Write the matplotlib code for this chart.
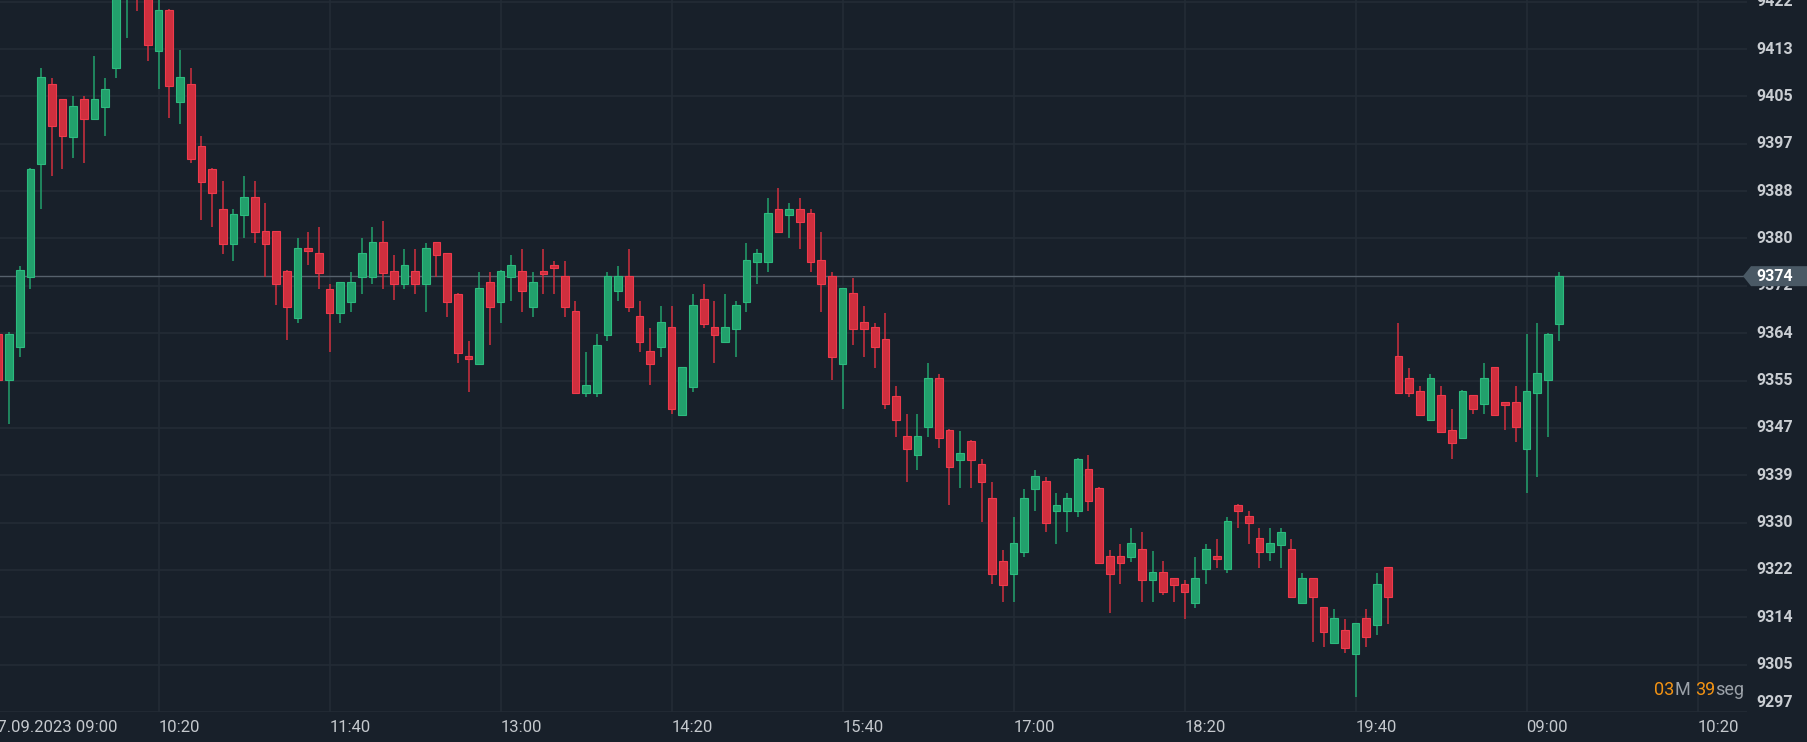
import numpy as np
import matplotlib
matplotlib.use("Agg")
import matplotlib.pyplot as plt
from matplotlib.patches import Polygon
from matplotlib.transforms import blended_transform_factory

plt.rcParams['font.family'] = ['Roboto', 'DejaVu Sans']

# 5-minute candles, index 1..147 on the chart's x slots
idx = np.arange(1, 148)
opens = [9363.7, 9355.5, 9361.4, 9373.6, 9393.5, 9407.7, 9404.9, 9398.3, 9404.9, 9401.5,
         9403.5, 9410.5, 9424.0, 9430.0, 9426.0, 9413.5, 9420.6, 9404.5, 9407.7, 9396.7,
         9392.7, 9385.7, 9379.5, 9384.6, 9387.7, 9381.7, 9381.7, 9374.7, 9366.5, 9378.7,
         9377.8, 9371.6, 9367.4, 9369.3, 9373.6, 9373.6, 9379.8, 9374.7, 9372.4, 9374.7,
         9372.4, 9379.8, 9377.8, 9370.7, 9359.7, 9358.3, 9372.7, 9369.3, 9373.6, 9374.7,
         9368.4, 9374.7, 9375.8, 9373.8, 9367.7, 9353.3, 9353.3, 9363.4, 9371.2, 9373.8,
         9366.8, 9360.6, 9361.4, 9364.8, 9349.3, 9354.3, 9369.7, 9364.8, 9362.3, 9364.5,
         9369.3, 9376.3, 9376.3, 9385.7, 9384.5, 9385.7, 9384.85, 9376.6, 9373.8, 9358.3,
         9370.8, 9365.7, 9364.8, 9362.7, 9352.7, 9345.7, 9342.3, 9347.3, 9355.8, 9346.8,
         9341.4, 9344.8, 9340.7, 9334.7, 9323.7, 9321.4, 9325.3, 9336.3, 9337.7, 9332.4,
         9332.4, 9332.4, 9339.8, 9336.6, 9324.5, 9324.5, 9324.3, 9325.7, 9320.3, 9321.7,
         9320.6, 9319.7, 9316.3, 9322.3, 9324.6, 9322.3, 9333.6, 9331.6, 9327.65, 9325.3,
         9326.5, 9325.7, 9316.3, 9320.6, 9315.5, 9309.3, 9311.6, 9307.3, 9313.6, 9312.4,
         9322.55, 9359.7, 9355.8, 9353.6, 9348.5, 9352.8, 9346.7, 9345.4, 9352.8, 9351.3,
         9357.75, 9351.6, 9351.6, 9343.4, 9353.3, 9355.5, 9365.4]
highs = [9364.5, 9364.0, 9375.6, 9392.9, 9410.5, 9408.6, 9405.0, 9405.5, 9405.5, 9412.5,
         9408.6, 9427.0, 9430.0, 9432.0, 9428.0, 9423.5, 9420.8, 9413.6, 9410.5, 9398.5,
         9392.8, 9390.5, 9385.6, 9391.4, 9390.5, 9386.6, 9381.8, 9374.8, 9380.5, 9381.5,
         9382.4, 9372.5, 9372.8, 9374.5, 9380.5, 9382.4, 9383.5, 9377.6, 9378.5, 9378.5,
         9379.6, 9379.9, 9377.9, 9370.8, 9362.4, 9374.5, 9374.5, 9374.8, 9377.6, 9378.5,
         9374.5, 9378.5, 9376.5, 9376.5, 9369.4, 9360.4, 9363.6, 9374.5, 9375.6, 9378.5,
         9369.4, 9364.6, 9368.5, 9368.5, 9357.9, 9370.6, 9372.5, 9369.4, 9370.6, 9369.4,
         9379.6, 9378.5, 9387.5, 9389.4, 9386.6, 9387.5, 9385.6, 9381.5, 9374.6, 9371.7,
         9373.5, 9368.5, 9365.5, 9367.4, 9354.5, 9349.5, 9349.5, 9358.5, 9356.5, 9346.9,
         9346.5, 9344.9, 9341.6, 9337.6, 9325.6, 9331.5, 9336.4, 9339.6, 9338.5, 9335.6,
         9335.6, 9341.8, 9342.4, 9336.7, 9325.6, 9326.7, 9329.4, 9328.7, 9325.5, 9323.6,
         9320.7, 9320.4, 9324.4, 9326.6, 9327.5, 9331.5, 9333.7, 9332.5, 9329.4, 9329.4,
         9329.4, 9327.5, 9321.5, 9320.7, 9315.6, 9315.3, 9313.4, 9312.8, 9315.3, 9321.5,
         9322.6, 9365.5, 9357.6, 9354.5, 9356.5, 9354.5, 9350.5, 9353.7, 9352.9, 9358.5,
         9357.8, 9351.7, 9354.5, 9363.6, 9365.5, 9363.8, 9374.5]
lows = [9354.0, 9347.8, 9359.6, 9371.5, 9385.6, 9391.5, 9392.6, 9394.6, 9393.7, 9401.3,
        9398.5, 9408.6, 9415.7, 9420.5, 9411.7, 9406.7, 9401.6, 9400.5, 9393.7, 9383.6,
        9382.5, 9377.7, 9376.5, 9380.5, 9379.7, 9373.6, 9368.7, 9362.6, 9365.6, 9375.8,
        9371.5, 9360.5, 9365.6, 9367.5, 9370.6, 9372.5, 9371.5, 9369.6, 9371.5, 9370.6,
        9367.5, 9373.7, 9366.7, 9358.6, 9353.5, 9358.2, 9361.6, 9365.5, 9369.5, 9367.5,
        9366.7, 9370.7, 9370.7, 9366.7, 9353.2, 9352.6, 9352.6, 9362.4, 9369.5, 9367.5,
        9360.5, 9354.6, 9359.6, 9349.5, 9349.2, 9353.5, 9364.6, 9358.6, 9362.2, 9359.6,
        9367.5, 9372.5, 9374.6, 9381.4, 9380.5, 9378.5, 9374.6, 9367.5, 9355.6, 9350.5,
        9361.6, 9359.6, 9357.6, 9350.5, 9345.5, 9337.6, 9339.6, 9345.5, 9343.5, 9333.5,
        9336.6, 9336.6, 9330.6, 9319.6, 9316.5, 9316.5, 9324.4, 9332.5, 9328.7, 9326.7,
        9328.7, 9331.5, 9332.5, 9323.3, 9314.6, 9319.6, 9323.5, 9316.5, 9316.5, 9317.7,
        9316.5, 9313.5, 9315.4, 9319.6, 9322.5, 9321.6, 9329.5, 9326.7, 9322.5, 9323.6,
        9322.5, 9317.3, 9316.2, 9309.5, 9308.6, 9309.2, 9307.5, 9299.7, 9308.6, 9310.6,
        9312.6, 9353.2, 9352.6, 9349.3, 9348.4, 9346.3, 9341.6, 9345.3, 9349.5, 9349.5,
        9349.3, 9346.7, 9344.7, 9335.7, 9338.5, 9345.5, 9362.4]
closes = [9355.5, 9363.7, 9374.8, 9392.7, 9408.8, 9400.3, 9398.4, 9403.7, 9401.5, 9404.9,
          9406.8, 9425.0, 9428.0, 9425.0, 9414.4, 9420.6, 9407.3, 9408.8, 9394.4, 9390.4,
          9388.5, 9379.5, 9384.8, 9387.7, 9381.5, 9379.5, 9372.4, 9368.4, 9378.7, 9378.2,
          9374.4, 9367.4, 9372.7, 9372.7, 9377.8, 9379.8, 9374.4, 9372.4, 9375.8, 9372.4,
          9378.7, 9377.5, 9369.3, 9360.3, 9359.2, 9371.7, 9368.4, 9374.7, 9375.8, 9371.2,
          9372.7, 9374.1, 9375.2, 9368.4, 9353.3, 9354.7, 9361.7, 9373.8, 9373.8, 9368.4,
          9362.3, 9358.3, 9365.7, 9350.4, 9357.8, 9368.8, 9365.4, 9363.4, 9364.8, 9368.8,
          9376.6, 9377.8, 9384.9, 9381.5, 9385.7, 9383.4, 9376.35, 9372.4, 9359.5, 9371.65,
          9364.5, 9364.5, 9361.4, 9351.3, 9348.5, 9343.4, 9345.7, 9355.8, 9345.4, 9340.3,
          9342.6, 9341.4, 9337.5, 9321.4, 9319.4, 9326.8, 9334.7, 9338.6, 9330.4, 9333.6,
          9334.7, 9341.7, 9334.3, 9323.4, 9321.4, 9323.4, 9326.8, 9320.3, 9321.7, 9318.3,
          9319.4, 9318.3, 9320.6, 9325.7, 9324.0, 9330.8, 9332.5, 9330.4, 9325.3, 9326.8,
          9328.7, 9317.4, 9320.6, 9317.4, 9311.2, 9313.6, 9308.4, 9312.7, 9310.35, 9319.7,
          9317.4, 9353.3, 9353.3, 9349.4, 9355.8, 9346.4, 9344.5, 9353.6, 9350.4, 9355.8,
          9349.4, 9351.1, 9347.3, 9353.6, 9356.7, 9363.7, 9373.8]

tick_pos = [0, 16, 32, 48, 64, 80, 96, 112, 128, 144, 160]
tick_labels = ['07.09.2023 09:00', '10:20', '11:40', '13:00', '14:20', '15:40',
               '17:00', '18:20', '19:40', '09:00', '10:20']
price_labels = ['9297', '9305', '9314', '9322', '9330', '9339', '9347', '9355',
                '9364', '9372', '9380', '9388', '9397', '9405', '9413', '9422']

bg = '#18202a'
grid_c = '#232c36'
up_body, up_edge = '#22a06c', '#2cba7e'
dn_body, dn_edge = '#cf2f3e', '#ee3a4c'

W, H = 1808, 742
fig = plt.figure(figsize=(W / 100, H / 100), dpi=100, facecolor=bg)
ax = fig.add_axes([0, 30 / H, 1747 / W, 712 / H])
ax.set_facecolor(bg)
for s in ax.spines.values():
    s.set_visible(False)
ax.set_xticks([])
ax.set_yticks([])

y_lo, y_hi = 9297.1, 9422.4

grid_vals = y_lo + np.arange(len(price_labels)) * 8.333
for g in grid_vals:
    ax.axhline(g, color=grid_c, lw=1.2, zorder=0)
for p in tick_pos:
    ax.axvline(p, color=grid_c, lw=1.2, zorder=0)

o = np.array(opens); h = np.array(highs); l = np.array(lows); c = np.array(closes)
up = c >= o
wcol = np.where(up, up_body, dn_body)
ax.vlines(idx, l, h, colors=wcol, lw=1.1, zorder=2)
bottoms = np.minimum(o, c)
heights = np.maximum(np.abs(c - o), 0.3)
ax.bar(idx[up], heights[up], bottom=bottoms[up], width=0.72,
       color=up_body, edgecolor=up_edge, linewidth=0.8, zorder=3)
ax.bar(idx[~up], heights[~up], bottom=bottoms[~up], width=0.72,
       color=dn_body, edgecolor=dn_edge, linewidth=0.8, zorder=3)
ax.set_xlim(1.16, 164.62)
ax.set_ylim(y_lo, y_hi)

# time labels, left aligned on the grid lines (first one runs off the left edge)
for p, lab in zip(tick_pos, tick_labels):
    ax.annotate(lab, xy=(p, 0), xycoords=('data', 'axes fraction'),
                xytext=(0, -6), textcoords='offset points', ha='left', va='top',
                fontsize=12, color='#c4c8cd', annotation_clip=False)

# price scale on the right
tr = blended_transform_factory(ax.transAxes, ax.transData)
for i, (g, lab) in enumerate(zip(grid_vals, price_labels)):
    va = 'bottom' if i == 0 else 'center'
    ax.text(1.0052, g + (0.3 if i == 0 else 0), lab, transform=tr, ha='left', va=va,
            fontsize=11.5, fontweight='bold', color='#c9cdd2', clip_on=False)

last = c[-1]
ax.axhline(last, color='#56616c', lw=1, zorder=1)

# current price tag
fig.canvas.draw()
_, yd = ax.transData.transform((idx[-1], last))
pts = [(1743, yd), (1751, yd + 10), (W, yd + 10), (W, yd - 10), (1751, yd - 10)]
fig.patches.append(Polygon(pts, closed=True, transform=None, facecolor='#4a5965',
                           edgecolor='none', zorder=5))
fig.text(1775 / W, yd / H, f'{last:.0f}', ha='center', va='center', fontsize=11.5,
         fontweight='bold', color='white', zorder=6)

# countdown
renderer = fig.canvas.get_renderer()
x = 1654
for part, col, gap in [('03', '#f39313', 0), ('M', '#9ba1a8', 0), ('39', '#f39313', 5),
                       ('seg', '#9ba1a8', 0)]:
    x += gap
    t = fig.text(x / W, (H - 690) / H, part, ha='left', va='center', fontsize=13,
                 color=col)
    x += t.get_window_extent(renderer).width

fig.savefig('out.png', dpi=100, facecolor=bg)
